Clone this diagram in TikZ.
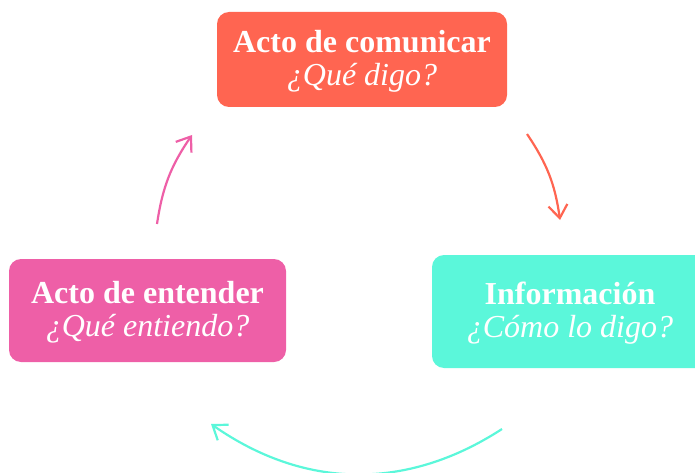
\documentclass[tikz,border=0pt]{standalone}
\usepackage{fontspec}
\setmainfont{Liberation Serif}
\usetikzlibrary{arrows.meta}
\definecolor{cOrange}{HTML}{FF6551}
\definecolor{cPink}{HTML}{EE5FA7}
\definecolor{cTeal}{HTML}{5BF7DA}
\tikzset{
  box/.style={fill=#1, rounded corners=12pt, inner sep=0pt},
  lbl/.style={text=white, align=center, inner sep=0pt, yshift=-2pt,
    font=\fontsize{32}{33}\selectfont},
  cyc/.style={draw=#1, line width=2.2pt, -{Straight Barb[length=13pt,width=19pt,line width=2.2pt]}}
}
\begin{document}
\begin{tikzpicture}[x=1pt,y=1pt]
\useasboundingbox (0,0) rectangle (695,472);
\clip (0,0) rectangle (695,472);
\node[box=cOrange, minimum width=290pt, minimum height=95pt] (com) at (362,412.5) {};
\node[lbl] (comt) at (com.center) {\textbf{Acto de comunicar}\\\textit{¿Qué digo?}};
\node[box=cTeal, minimum width=276pt, minimum height=113pt] (inf) at (570,160.5) {};
\node[lbl] (inft) at (inf.center) {\textbf{Información}\\\textit{¿Cómo lo digo?}};
\node[box=cPink, minimum width=277pt, minimum height=103pt] (ent) at (147.5,161.5) {};
\node[lbl] (entt) at (ent.center) {\textbf{Acto de entender}\\\textit{¿Qué entiendo?}};
\coordinate (p1) at (157,248);
\coordinate (p2) at (192,337);
\coordinate (o1) at (527,338);
\coordinate (o2) at (560,252);
\coordinate (t1) at (502,43);
\coordinate (t2) at (211,48);
\draw[cyc=cPink] (p1) to[bend left=13] (p2);
\draw[cyc=cOrange] (o1) to[bend left=13] (o2);
\draw[cyc=cTeal] (t1) to[bend left=34] (t2);
\end{tikzpicture}
\end{document}
